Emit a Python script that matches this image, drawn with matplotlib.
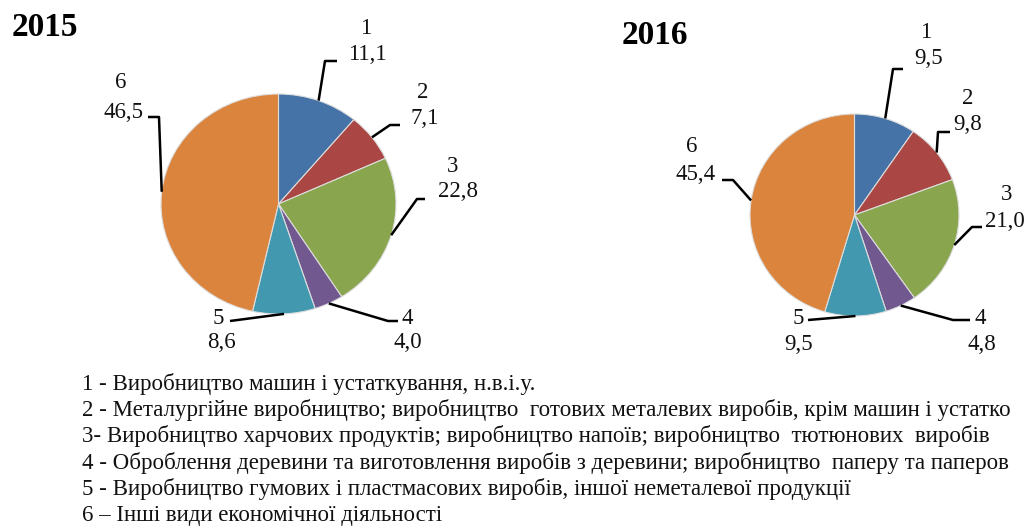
import matplotlib
matplotlib.use('Agg')
import matplotlib.pyplot as plt
import numpy as np

W, H = 1028, 527

# ---------------- data ----------------
categories = ['1', '2', '3', '4', '5', '6']
years = ['2015', '2016']
values_2015 = [11.1, 7.1, 22.8, 4.0, 8.6, 46.5]
values_2016 = [9.5, 9.8, 21.0, 4.8, 9.5, 45.4]
value_labels_2015 = ['11,1', '7,1', '22,8', '4,0', '8,6', '46,5']
value_labels_2016 = ['9,5', '9,8', '21,0', '4,8', '9,5', '45,4']
# lines 2 and 4 are cut at the right edge in the reference, kept as visible there
legend_lines = [
    '1 - Виробництво машин і устаткування, н.в.і.у.',
    '2 - Металургійне виробництво; виробництво  готових металевих виробів, крім машин і устатко',
    '3- Виробництво харчових продуктів; виробництво напоїв; виробництво  тютюнових  виробів',
    '4 - Оброблення деревини та виготовлення виробів з деревини; виробництво  паперу та паперов',
    '5 - Виробництво гумових і пластмасових виробів, іншої неметалевої продукції',
    '6 – Інші види економічної діяльності',
]
colors = ['#4572A7', '#AA4643', '#89A54E', '#71588F', '#4198AF', '#DB843D']

plt.rcParams['font.family'] = ['Liberation Serif', 'DejaVu Serif']

fig = plt.figure(figsize=(W / 100, H / 100), dpi=100)


def fig_pt(x, y):
    """pixel (from top-left) -> figure fraction"""
    return (x / W, 1 - y / H)


# ---------------- layout (pixels) ----------------
pies = [
    dict(values=values_2015, vlabels=value_labels_2015, year=years[0],
         cx=278.5, cy=204, rx=117.5, ry=110, title=(12, 28),
         num_pos=[(366, 28), (423, 92), (453, 166), (407, 318), (218, 318), (121, 83)],
         val_pos=[(367, 55), (425, 118), (458, 192), (408, 343), (221, 343), (123, 112)],
         elbow=[(325, 61), (390, 125), (417, 199), (388, 321), None, (159, 117)],
         end=[(337, 61), (400, 125), (425, 199), (398, 321), (230, 321), (148, 117)]),
    dict(values=values_2016, vlabels=value_labels_2016, year=years[1],
         cx=854.5, cy=215, rx=104.5, ry=101, title=(622, 36),
         num_pos=[(926, 33), (968, 98), (1007, 194), (980, 318), (798, 318), (692, 147)],
         val_pos=[(929, 59), (968, 124), (1005, 221), (982, 344), (799, 344), (696, 174)],
         elbow=[(893, 69), (938, 132), (972, 227), (953, 320), None, (733, 180)],
         end=[(903, 69), (950, 132), (982, 227), (970, 320), (808, 320), (722, 180)]),
]

for p in pies:
    left = (p['cx'] - p['rx']) / W
    bottom = (H - p['cy'] - p['ry']) / H
    ax = fig.add_axes([left, bottom, 2 * p['rx'] / W, 2 * p['ry'] / H])
    wedges, _ = ax.pie(p['values'], colors=colors, startangle=90, counterclock=False,
                       radius=1.0, wedgeprops=dict(edgecolor='#dddddd', linewidth=0.8))
    ax.set_aspect('auto')
    ax.set_xlim(-1, 1)
    ax.set_ylim(-1, 1)
    ax.axis('off')

    for i, w in enumerate(wedges):
        mid = np.deg2rad((w.theta1 + w.theta2) / 2)
        anchor = (np.cos(mid), np.sin(mid))
        disp = ax.transData.transform(anchor)
        ax_pt = fig.transFigure.inverted().transform(disp)
        pts = [tuple(ax_pt)]
        if p['elbow'][i] is not None:
            pts.append(fig_pt(*p['elbow'][i]))
        pts.append(fig_pt(*p['end'][i]))
        xs, ys = zip(*pts)
        fig.add_artist(plt.Line2D(xs, ys, transform=fig.transFigure, color='black',
                                  lw=1.8, solid_capstyle='butt'))
        fig.text(*fig_pt(*p['num_pos'][i]), categories[i], ha='center', va='center',
                 fontsize=16.5, color='#111111')
        fig.text(*fig_pt(*p['val_pos'][i]), p['vlabels'][i], ha='center', va='center',
                 fontsize=16.5, color='#111111')

    tx, ty = p['title']
    fig.text(*fig_pt(tx, ty), p['year'], ha='left', va='center', fontsize=24,
             fontweight='bold', color='black')

for i, line in enumerate(legend_lines):
    fig.text(*fig_pt(82, 390 + 26.2 * i), line, ha='left', va='baseline',
             fontsize=16.5, color='#111111')

fig.savefig('out.png', dpi=100, facecolor='white')
